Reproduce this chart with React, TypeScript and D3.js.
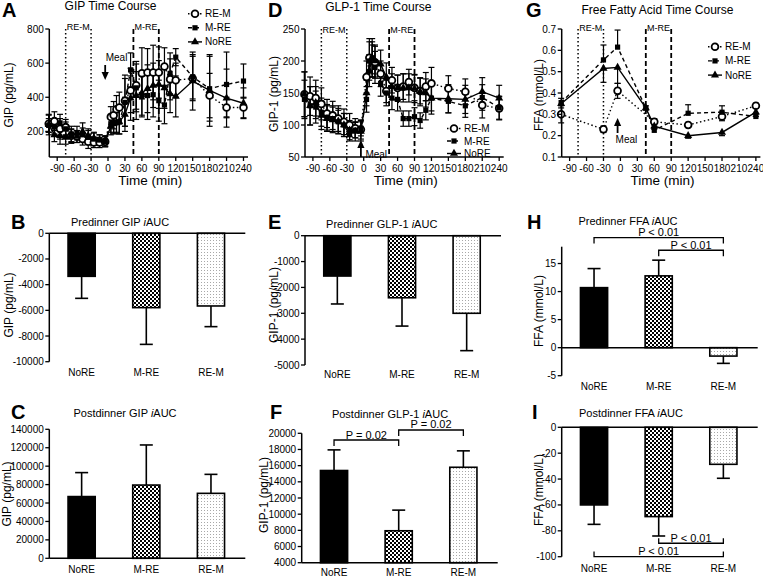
import React from "react";
import * as d3 from "d3";

const groups = ["NoRE", "M-RE", "RE-M"];
const tcTimes = [-105, -95, -85, -75, -65, -55, -45, -35, -25, -15, -5, 5, 10, 15, 20, 30, 40, 50, 60, 70, 80, 90, 100, 110, 120, 150, 180, 210, 240];
const timeTicks = [-90, -60, -30, 0, 30, 60, 90, 120, 150, 180, 210, 240];

// GIP time course (pg/mL)
const gipREM = [245, 260, 215, 225, 175, 170, 155, 140, 135, 135, 140, 285, 295, 330, 340, 380, 440, 470, 540, 545, 545, 545, 580, 505, 500, 510, 410, 340, 340];
const gipREMErr = [50, 55, 60, 45, 40, 35, 35, 40, 30, 30, 30, 60, 80, 80, 90, 150, 130, 140, 150, 140, 160, 150, 110, 120, 100, 130, 130, 60, 60];
const gipMRE = [235, 225, 250, 215, 185, 190, 180, 165, 155, 150, 145, 245, 250, 255, 255, 370, 560, 455, 405, 410, 415, 380, 355, 540, 635, 520, 450, 475, 495];
const gipMREErr = [40, 40, 50, 40, 45, 40, 40, 40, 35, 30, 30, 50, 60, 60, 70, 140, 100, 140, 120, 140, 130, 120, 110, 120, 50, 130, 190, 190, 100];
const gipNoRE = [240, 180, 175, 165, 170, 170, 200, 175, 160, 150, 140, 230, 245, 250, 255, 300, 395, 410, 425, 450, 470, 475, 455, 420, 405, 495, 440, 395, 365];
const gipNoREErr = [60, 40, 50, 40, 40, 35, 50, 40, 35, 30, 30, 50, 60, 60, 70, 100, 130, 140, 130, 140, 130, 140, 120, 110, 120, 170, 210, 170, 90];
const gipTicks = [200, 400, 600, 800];

// GLP-1 time course (pg/mL)
const glpREM = [148, 145, 142, 133, 118, 115, 110, 105, 100, 95, 93, 175, 205, 200, 198, 180, 153, 170, 158, 160, 167, 158, 153, 160, 165, 157, 152, 131, 126];
const glpREMErr = [35, 30, 28, 25, 22, 22, 20, 20, 18, 15, 15, 25, 30, 25, 25, 20, 18, 20, 20, 20, 20, 20, 20, 22, 25, 20, 20, 20, 18];
const glpMRE = [140, 130, 128, 120, 112, 110, 105, 100, 85, 92, 95, 140, 200, 205, 190, 165, 150, 142, 140, 110, 110, 113, 107, 123, 142, 137, 130, 143, 127];
const glpMREErr = [30, 30, 25, 22, 20, 20, 18, 18, 10, 12, 12, 20, 30, 25, 25, 20, 20, 18, 18, 12, 12, 14, 12, 15, 20, 18, 18, 20, 18];
const glpNoRE = [148, 130, 135, 115, 110, 108, 106, 100, 92, 90, 90, 150, 185, 205, 200, 195, 175, 160, 158, 158, 158, 157, 152, 150, 142, 141, 140, 152, 142];
const glpNoREErr = [35, 30, 25, 22, 20, 20, 20, 18, 15, 15, 15, 20, 25, 30, 25, 22, 22, 20, 20, 22, 22, 22, 22, 22, 25, 22, 22, 22, 20];
const glpTicks = [50, 100, 150, 200, 250];

// FFA time course (mmol/L)
const ffaTimesREM = [-105, -30, -5, 60, 120, 180, 240];
const ffaREM = [0.30, 0.23, 0.41, 0.265, 0.25, 0.29, 0.34];
const ffaREMErr = [0.04, 0.015, 0.035, 0.015, 0.012, 0.02, 0.012];
const ffaTimesMRE = [-105, -30, -5, 45, 60, 120, 180, 240];
const ffaMRE = [0.355, 0.555, 0.615, 0.33, 0.225, 0.305, 0.31, 0.29];
const ffaMREErr = [0.02, 0.07, 0.08, 0.01, 0.01, 0.04, 0.03, 0.012];
const ffaTimesNoRE = [-105, -30, -5, 45, 60, 120, 180, 240];
const ffaNoRE = [0.35, 0.515, 0.52, 0.33, 0.245, 0.2, 0.215, 0.31];
const ffaNoREErr = [0.02, 0.065, 0.075, 0.01, 0.015, 0.012, 0.015, 0.02];
const ffaTicks = [0.1, 0.2, 0.3, 0.4, 0.5, 0.6, 0.7];

// iAUC bars (order: NoRE, M-RE, RE-M)
const gipPre = [-3350, -5790, -5660];
const gipPreErr = [1715, 2860, 1610];
const gipPreTicks = [0, -2000, -4000, -6000, -8000, -10000];
const gipPost = [67000, 79500, 70500];
const gipPostErr = [26000, 43500, 20600];
const gipPostTicks = [0, 20000, 40000, 60000, 80000, 100000, 120000, 140000];
const glpPre = [-1560, -2400, -3000];
const glpPreErr = [1080, 1095, 1445];
const glpPreTicks = [0, -1000, -2000, -3000, -4000, -5000];
const glpPost = [15400, 7950, 15800];
const glpPostErr = [2550, 2550, 2030];
const glpPostTicks = [4000, 6000, 8000, 10000, 12000, 14000, 16000, 18000, 20000];
const ffaPre = [10.7, 12.8, -1.5];
const ffaPreErr = [3.4, 2.8, 1.3];
const ffaPreTicks = [-5, 0, 5, 10, 15];
const ffaPost = [-60, -69, -28.6];
const ffaPostErr = [15, 15, 10.8];
const ffaPostTicks = [0, -20, -40, -60, -80, -100];

const FONT = "'Liberation Sans', Arial, Helvetica, sans-serif";
const barFills = ["#000", "url(#checker)", "url(#dots)"];

type Kind = "circle" | "square" | "triangle";
type Series = { name: string; times: number[]; values: number[]; errs: number[]; marker: Kind; dash?: string; errDir?: "both" | "up" | "down" };

function Marker({ kind, x, y }: { kind: Kind; x: number; y: number }) {
  if (kind === "circle") return <circle cx={x} cy={y} r={3.4} fill="#fff" stroke="#000" strokeWidth={1.8} />;
  if (kind === "square") return <rect x={x - 2.6} y={y - 2.6} width={5.2} height={5.2} fill="#000" />;
  const p = d3.symbol(d3.symbolTriangle, 28)() as string;
  return <path d={p} transform={`translate(${x},${y})`} fill="#000" />;
}

function Title({ x, y, pre, italic, post, size }: any) {
  return (
    <text x={x} y={y} fontSize={size || 11} textAnchor="middle">
      <tspan>{pre}</tspan>
      {italic ? <tspan fontStyle="italic">{italic}</tspan> : null}
      {post ? <tspan>{post}</tspan> : null}
    </text>
  );
}

function Letter({ x, y, t }: any) {
  return <text x={x} y={y} fontSize={20} fontWeight="bold">{t}</text>;
}

function YLabel({ x, y, t }: any) {
  return <text transform={`translate(${x},${y}) rotate(-90)`} fontSize={12} textAnchor="middle">{t}</text>;
}

function TimePanel(props: any) {
  const { left, right, top, bottom, yDomain, yTicks, fmt, series, title, letter, ylabel, legend, meal, winLabelY } = props;
  const x = d3.scaleLinear().domain([-104, 248]).range([left, right]);
  const y = d3.scaleLinear().domain(yDomain).range([bottom, top]);
  const line = d3.line<[number, number]>().x((d) => x(d[0])).y((d) => y(d[1]));
  const mx = x(meal.t);
  const tipDir = meal.dir === "down" ? 1 : -1;
  const headLen = 8;
  return (
    <g>
      <Letter {...letter} />
      <Title {...title} size={12} />
      {[-75, -30].map((t) => (
        <line key={"d" + t} x1={x(t)} x2={x(t)} y1={top} y2={bottom} stroke="#000" strokeWidth={1.5} strokeDasharray="1.5,2.5" />
      ))}
      {[45, 90].map((t) => (
        <line key={"s" + t} x1={x(t)} x2={x(t)} y1={top} y2={bottom} stroke="#000" strokeWidth={1.8} strokeDasharray="5,3" />
      ))}
      <text x={(x(-75) + x(-30)) / 2} y={winLabelY} fontSize={9} textAnchor="middle">RE-M</text>
      <text x={(x(45) + x(90)) / 2} y={winLabelY} fontSize={9} textAnchor="middle">M-RE</text>
      {series.map((s: Series) => (
        <path key={"l" + s.name} d={line(s.times.map((t, i) => [t, s.values[i]] as [number, number])) as string} fill="none" stroke="#000" strokeWidth={1.4} strokeDasharray={s.dash} />
      ))}
      {series.map((s: Series) =>
        s.times.map((t, i) => {
          const v = s.values[i];
          const e = s.errs[i];
          const dir = s.errDir || "both";
          const y1 = y(dir === "down" ? v : v + e);
          const y2 = y(dir === "up" ? v : v - e);
          const xx = x(t);
          return (
            <g key={"e" + s.name + i} stroke="#000" strokeWidth={1.2}>
              <line x1={xx} x2={xx} y1={y1} y2={y2} />
              {dir !== "down" && <line x1={xx - 3} x2={xx + 3} y1={y1} y2={y1} />}
              {dir !== "up" && <line x1={xx - 3} x2={xx + 3} y1={y2} y2={y2} />}
            </g>
          );
        })
      )}
      {series.map((s: Series) =>
        s.times.map((t, i) => <Marker key={"m" + s.name + i} kind={s.marker} x={x(t)} y={y(s.values[i])} />)
      )}
      <line x1={mx} x2={mx} y1={meal.tail} y2={meal.tip - tipDir * headLen} stroke="#000" strokeWidth={1.8} />
      <path d={`M${mx - 3.6},${meal.tip - tipDir * headLen} L${mx + 3.6},${meal.tip - tipDir * headLen} L${mx},${meal.tip} Z`} fill="#000" />
      <text x={mx + meal.dx} y={meal.ty} fontSize={10}>Meal</text>
      <line x1={left} x2={left} y1={top} y2={bottom} stroke="#000" strokeWidth={1.5} />
      <line x1={left} x2={right} y1={bottom} y2={bottom} stroke="#000" strokeWidth={1.5} />
      {yTicks.map((v: number) => (
        <g key={"yt" + v}>
          <line x1={left - 4} x2={left} y1={y(v)} y2={y(v)} stroke="#000" strokeWidth={1.3} />
          <text x={left - 5.5} y={y(v) + 3.5} fontSize={10} textAnchor="end">{fmt(v)}</text>
        </g>
      ))}
      {timeTicks.map((t) => (
        <g key={"xt" + t}>
          <line x1={x(t)} x2={x(t)} y1={bottom} y2={bottom + 4} stroke="#000" strokeWidth={1.3} />
          <text x={x(t)} y={bottom + 15} fontSize={10} textAnchor="middle">{t}</text>
        </g>
      ))}
      <text x={(left + right) / 2 + 1.5} y={bottom + 27.5} fontSize={13.5} textAnchor="middle">Time (min)</text>
      <YLabel {...ylabel} />
      {series.map((s: Series, i: number) => {
        const ly = legend.y0 + i * legend.dy;
        return (
          <g key={"lg" + s.name}>
            <line x1={legend.x} x2={legend.x + 14} y1={ly} y2={ly} stroke="#000" strokeWidth={1.4} strokeDasharray={s.dash} />
            <Marker kind={s.marker} x={legend.x + 7} y={ly} />
            <text x={legend.x + 17} y={ly + 3.5} fontSize={10}>{s.name}</text>
          </g>
        );
      })}
    </g>
  );
}

function BarPanel(props: any) {
  const { left, top, bottom, yDomain, yTicks, values, errs, title, letter, ylabel, labelY, brackets } = props;
  const x = d3.scaleBand().domain(groups).range([left, left + 194]).paddingInner(0.58).paddingOuter(0.29);
  const y = d3.scaleLinear().domain(yDomain).range([bottom, top]);
  const base = yDomain[0] <= 0 && yDomain[1] >= 0 ? 0 : yDomain[0];
  const bw = x.bandwidth();
  const cx = (g: string) => (x(g) as number) + bw / 2;
  return (
    <g>
      <Letter {...letter} />
      <Title {...title} />
      {groups.map((g, i) => {
        const v = values[i];
        const e = errs[i];
        const ev = v >= 0 ? v + e : v - e;
        const c = cx(g);
        return (
          <g key={g}>
            <line x1={c} x2={c} y1={y(v)} y2={y(ev)} stroke="#000" strokeWidth={1.6} />
            <line x1={c - 6.5} x2={c + 6.5} y1={y(ev)} y2={y(ev)} stroke="#000" strokeWidth={1.6} />
            <rect x={x(g)} width={bw} y={Math.min(y(v), y(base))} height={Math.abs(y(v) - y(base))} fill={barFills[i]} stroke="#000" strokeWidth={1.6} />
            <text x={c} y={labelY} fontSize={10} textAnchor="middle">{g}</text>
          </g>
        );
      })}
      <line x1={left} x2={left} y1={top} y2={bottom} stroke="#000" strokeWidth={1.5} />
      <line x1={left} x2={left + 196} y1={y(base)} y2={y(base)} stroke="#000" strokeWidth={1.5} />
      {yTicks.map((v: number) => (
        <g key={"t" + v}>
          <line x1={left - 4} x2={left} y1={y(v)} y2={y(v)} stroke="#000" strokeWidth={1.3} />
          <text x={left - 5.5} y={y(v) + 3.5} fontSize={10} textAnchor="end">{v}</text>
        </g>
      ))}
      <YLabel {...ylabel} />
      {(brackets || []).map((b: any, i: number) => {
        const x1 = cx(b.a);
        const x2 = cx(b.b);
        const yy = y(b.v);
        const tk = b.dir === "down" ? 6 : -5;
        return (
          <g key={"b" + i}>
            <path d={`M${x1},${yy + tk} L${x1},${yy} L${x2},${yy} L${x2},${yy + tk}`} fill="none" stroke="#000" strokeWidth={1.3} />
            <text x={(x1 + x2) / 2} y={yy - 1.5} fontSize={11} textAnchor="middle">{b.text}</text>
          </g>
        );
      })}
    </g>
  );
}

export default function App() {
  const gipSeries: Series[] = [
    { name: "RE-M", times: tcTimes, values: gipREM, errs: gipREMErr, marker: "circle", dash: "1.5,2.5" },
    { name: "M-RE", times: tcTimes, values: gipMRE, errs: gipMREErr, marker: "square", dash: "4,3" },
    { name: "NoRE", times: tcTimes, values: gipNoRE, errs: gipNoREErr, marker: "triangle" },
  ];
  const glpSeries: Series[] = [
    { name: "RE-M", times: tcTimes, values: glpREM, errs: glpREMErr, marker: "circle", dash: "1.5,2.5" },
    { name: "M-RE", times: tcTimes, values: glpMRE, errs: glpMREErr, marker: "square", dash: "4,3" },
    { name: "NoRE", times: tcTimes, values: glpNoRE, errs: glpNoREErr, marker: "triangle" },
  ];
  const ffaSeries: Series[] = [
    { name: "RE-M", times: ffaTimesREM, values: ffaREM, errs: ffaREMErr, marker: "circle", dash: "1.5,2.5" },
    { name: "M-RE", times: ffaTimesMRE, values: ffaMRE, errs: ffaMREErr, marker: "square", dash: "4,3", errDir: "up" },
    { name: "NoRE", times: ffaTimesNoRE, values: ffaNoRE, errs: ffaNoREErr, marker: "triangle", errDir: "down" },
  ];
  const intFmt = (v: number) => String(v);
  const decFmt = (v: number) => v.toFixed(1);
  return (
    <div style={{ position: "absolute", left: 0, top: 0 }}>
      <svg width={763} height={576} style={{ display: "block", background: "#fff" }} fontFamily={FONT}>
        <defs>
          <pattern id="checker" width={4} height={4} patternUnits="userSpaceOnUse">
            <rect width={4} height={4} fill="#fff" />
            <rect width={2} height={2} fill="#000" />
            <rect x={2} y={2} width={2} height={2} fill="#000" />
          </pattern>
          <pattern id="dots" width={3} height={3} patternUnits="userSpaceOnUse">
            <rect width={3} height={3} fill="#fff" />
            <rect width={1} height={1} fill="#a8a8a8" />
          </pattern>
        </defs>
        <rect width={763} height={576} fill="#fff" />

        <TimePanel
          left={49.3} right={248} top={29} bottom={157} yDomain={[50, 800]} yTicks={gipTicks} fmt={intFmt}
          series={gipSeries}
          title={{ x: 110.5, y: 10, pre: "GIP Time Course" }}
          letter={{ x: 2, y: 16.5, t: "A" }}
          ylabel={{ x: 13, y: 95, t: "GIP (pg/mL)" }}
          legend={{ x: 188, y0: 13.7, dy: 14.1 }}
          meal={{ t: -5, dir: "down", tail: 65, tip: 80, dx: 0.5, ty: 61 }}
          winLabelY={30.2}
        />
        <TimePanel
          left={305} right={503.7} top={29} bottom={157} yDomain={[50, 250]} yTicks={glpTicks} fmt={intFmt}
          series={glpSeries}
          title={{ x: 378.3, y: 11, pre: "GLP-1 Time Course" }}
          letter={{ x: 268, y: 16.5, t: "D" }}
          ylabel={{ x: 278, y: 94, t: "GIP-1 (pg/mL)" }}
          legend={{ x: 447, y0: 128.5, dy: 12.5 }}
          meal={{ t: -5, dir: "up", tail: 157, tip: 140, dx: 4.5, ty: 157.5 }}
          winLabelY={33}
        />
        <TimePanel
          left={561.7} right={760.4} top={29} bottom={157} yDomain={[0.1, 0.7]} yTicks={ffaTicks} fmt={decFmt}
          series={ffaSeries}
          title={{ x: 657.5, y: 13.5, pre: "Free Fatty Acid Time Course" }}
          letter={{ x: 526, y: 17, t: "G" }}
          ylabel={{ x: 543, y: 95, t: "FFA (mmol/L)" }}
          legend={{ x: 708, y0: 46.7, dy: 14.2 }}
          meal={{ t: -5, dir: "up", tail: 133, tip: 118, dx: -2, ty: 143 }}
          winLabelY={30.5}
        />

        <BarPanel
          left={49.3} top={233.3} bottom={361.7} yDomain={[-10000, 0]} yTicks={gipPreTicks}
          values={gipPre} errs={gipPreErr}
          title={{ x: 120, y: 226, pre: "Predinner GIP ", italic: "i", post: "AUC" }}
          letter={{ x: 11, y: 228.5, t: "B" }}
          ylabel={{ x: 13, y: 305, t: "GIP (pg/mL)" }}
          labelY={376}
        />
        <BarPanel
          left={49.3} top={429.3} bottom={558.3} yDomain={[0, 140000]} yTicks={gipPostTicks}
          values={gipPost} errs={gipPostErr}
          title={{ x: 125, y: 417, pre: "Postdinner GIP ", italic: "i", post: "AUC" }}
          letter={{ x: 11, y: 418.5, t: "C" }}
          ylabel={{ x: 11, y: 494, t: "GIP (pg/mL)" }}
          labelY={572.5}
        />
        <BarPanel
          left={305} top={235.7} bottom={365} yDomain={[-5000, 0]} yTicks={glpPreTicks}
          values={glpPre} errs={glpPreErr}
          title={{ x: 381.7, y: 228, pre: "Predinner GLP-1 ", italic: "i", post: "AUC" }}
          letter={{ x: 268, y: 228.5, t: "E" }}
          ylabel={{ x: 278, y: 305, t: "GIP-1 (pg/mL)" }}
          labelY={378}
        />
        <BarPanel
          left={301.7} top={433.3} bottom={562.7} yDomain={[4000, 20000]} yTicks={glpPostTicks}
          values={glpPost} errs={glpPostErr}
          title={{ x: 390, y: 417.5, pre: "Postdinner GLP-1 ", italic: "i", post: "AUC" }}
          letter={{ x: 270, y: 418.5, t: "F" }}
          ylabel={{ x: 268, y: 495, t: "GIP-1 (pg/mL)" }}
          labelY={575.5}
          brackets={[
            { a: "NoRE", b: "M-RE", v: 19170, dir: "down", text: "P = 0.02" },
            { a: "M-RE", b: "RE-M", v: 20410, dir: "down", text: "P = 0.02" },
          ]}
        />
        <BarPanel
          left={561.7} top={246.7} bottom={375.7} yDomain={[-5, 18]} yTicks={ffaPreTicks}
          values={ffaPre} errs={ffaPreErr}
          title={{ x: 628, y: 225, pre: "Predinner FFA ", italic: "i", post: "AUC" }}
          letter={{ x: 527, y: 228.5, t: "H" }}
          ylabel={{ x: 543, y: 311, t: "FFA (mmol/L)" }}
          labelY={390}
          brackets={[
            { a: "NoRE", b: "RE-M", v: 19.63, dir: "down", text: "P < 0.01" },
            { a: "M-RE", b: "RE-M", v: 17.37, dir: "down", text: "P < 0.01" },
          ]}
        />
        <BarPanel
          left={561.7} top={427.3} bottom={556.7} yDomain={[-100, 0]} yTicks={ffaPostTicks}
          values={ffaPost} errs={ffaPostErr}
          title={{ x: 631, y: 417, pre: "Postdinner FFA ", italic: "i", post: "AUC" }}
          letter={{ x: 532, y: 418.5, t: "I" }}
          ylabel={{ x: 543, y: 490, t: "FFA (mmol/L)" }}
          labelY={572}
          brackets={[
            { a: "M-RE", b: "RE-M", v: -89.6, dir: "up", text: "P < 0.01" },
            { a: "NoRE", b: "RE-M", v: -99.9, dir: "up", text: "P < 0.01" },
          ]}
        />
      </svg>
    </div>
  );
}
